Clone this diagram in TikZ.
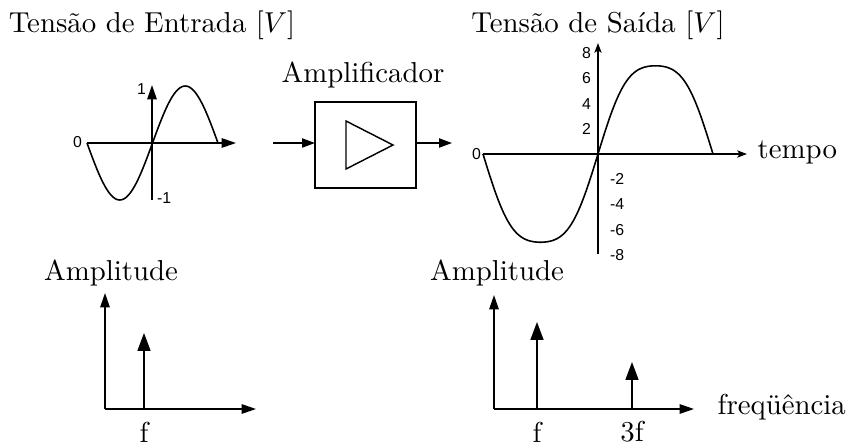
\documentclass[tikz,border=0pt]{standalone}
\usepackage{fontspec}
\newfontfamily\axisfont{Liberation Sans}
\usetikzlibrary{arrows.meta,positioning}
\tikzset{
    every picture/.style={
        x=0.347pt, y=-0.347pt,
        line width=0.5pt,
        font=\normalsize
    },
    % Axis and signal styles
    bigaxis/.style={-{Triangle[length=5pt,width=3.3pt]}},
    smallaxis/.style={-{Stealth[length=3.4pt,width=2.5pt,inset=0.8pt]}},
    spike/.style={-{Triangle[length=6.2pt,width=4.5pt]}},
    signal/.style={line width=0.55pt, smooth},
    ticklabel/.style={font=\axisfont\fontsize{5.5}{6}\selectfont, inner sep=0.5pt},
    title/.style={inner sep=0pt}
}

\begin{document}
\begin{tikzpicture}

    \useasboundingbox (0,0) rectangle (850,445);

    % Input signal
    \node[title] (intitle) at (152,25) {Tens\~ao de Entrada [$V$]};
    \coordinate (inx0) at (87,143);
    \coordinate (inx1) at (236,143);
    \coordinate (iny0) at (152,200);
    \coordinate (iny1) at (152,85);
    \draw[bigaxis] (inx0) -- (inx1);
    \draw[bigaxis] (iny0) -- (iny1);
    \draw[signal] plot[domain=0:360, samples=73] ({87+\x/360*131},{143+57*sin(\x)});
    \node[ticklabel, anchor=east] (inone) at (148,89) {1};
    \node[ticklabel, anchor=east] (inzero) at (84,142) {0};
    \node[ticklabel, anchor=west] (inmone) at (155,198) {-1};

    % Amplifier
    \node[title] (amptitle) at (363,75) {Amplificador};
    \coordinate (boxnw) at (315,102);
    \coordinate (boxse) at (416,188);
    \draw (boxnw) rectangle (boxse);
    \coordinate (tria) at (346,121);
    \coordinate (trib) at (346,169);
    \coordinate (tric) at (393,145);
    \draw (tria) -- (tric) -- (trib) -- cycle;
    \coordinate (ampin) at (273,143);
    \coordinate (boxin) at (315,143);
    \coordinate (boxout) at (416,143);
    \coordinate (ampout) at (452,143);
    \draw[-{Triangle[length=4.5pt,width=3.2pt]}] (ampin) -- (boxin);
    \draw[-{Triangle[length=4.5pt,width=3.2pt]}] (boxout) -- (ampout);

    % Output signal
    \node[title] (outtitle) at (598,25) {Tens\~ao de Sa\'ida [$V$]};
    \coordinate (outx0) at (483,154);
    \coordinate (outx1) at (747,154);
    \coordinate (outy0) at (598,254);
    \coordinate (outy1) at (598,43);
    \draw[smallaxis] (outx0) -- (outx1);
    \draw[smallaxis] (outy0) -- (outy1);
    \draw[signal] plot[domain=0:360, samples=91]
        ({483+\x/360*230},{154+95.9*(sin(\x)+0.08*sin(3*\x))});
    \node[title, anchor=west] (tempo) at (757,152) {tempo};
    \node[ticklabel, anchor=east] (outzero) at (483,154) {0};
    \foreach \v in {2,4,6,8} {
        \node[ticklabel, anchor=east] (outp\v) at (593,{154-12.6*\v}) {\v};
        \node[ticklabel, anchor=west] (outm\v) at (608,{154+12.6*\v}) {-\v};
    }

    % Input spectrum
    \node[title] (inamp) at (111,273) {Amplitude};
    \coordinate (inso) at (105,409);
    \coordinate (insy) at (105,293);
    \coordinate (insx) at (256,409);
    \draw[bigaxis] (inso) -- (insy);
    \draw[bigaxis] (inso) -- (insx);
    \coordinate (inf0) at (144,409);
    \coordinate (inf1) at (144,333);
    \draw[spike] (inf0) -- (inf1);
    \node[title] (inflab) at (144,432) {f};

    % Output spectrum
    \node[title] (outamp) at (497,273) {Amplitude};
    \coordinate (outso) at (494,409);
    \coordinate (outsy) at (494,295);
    \coordinate (outsx) at (694,409);
    \draw[bigaxis] (outso) -- (outsy);
    \draw[bigaxis] (outso) -- (outsx);
    \coordinate (outf0) at (537,409);
    \coordinate (outf1) at (537,322);
    \coordinate (outt0) at (632,409);
    \coordinate (outt1) at (632,362);
    \draw[spike] (outf0) -- (outf1);
    \draw[spike] (outt0) -- (outt1);
    \node[title] (outflab) at (537,432) {f};
    \node[title] (outtlab) at (632,432) {3f};
    \node[title, anchor=west] (freq) at (717,407) {freq\"u\^encia};

\end{tikzpicture}
\end{document}
